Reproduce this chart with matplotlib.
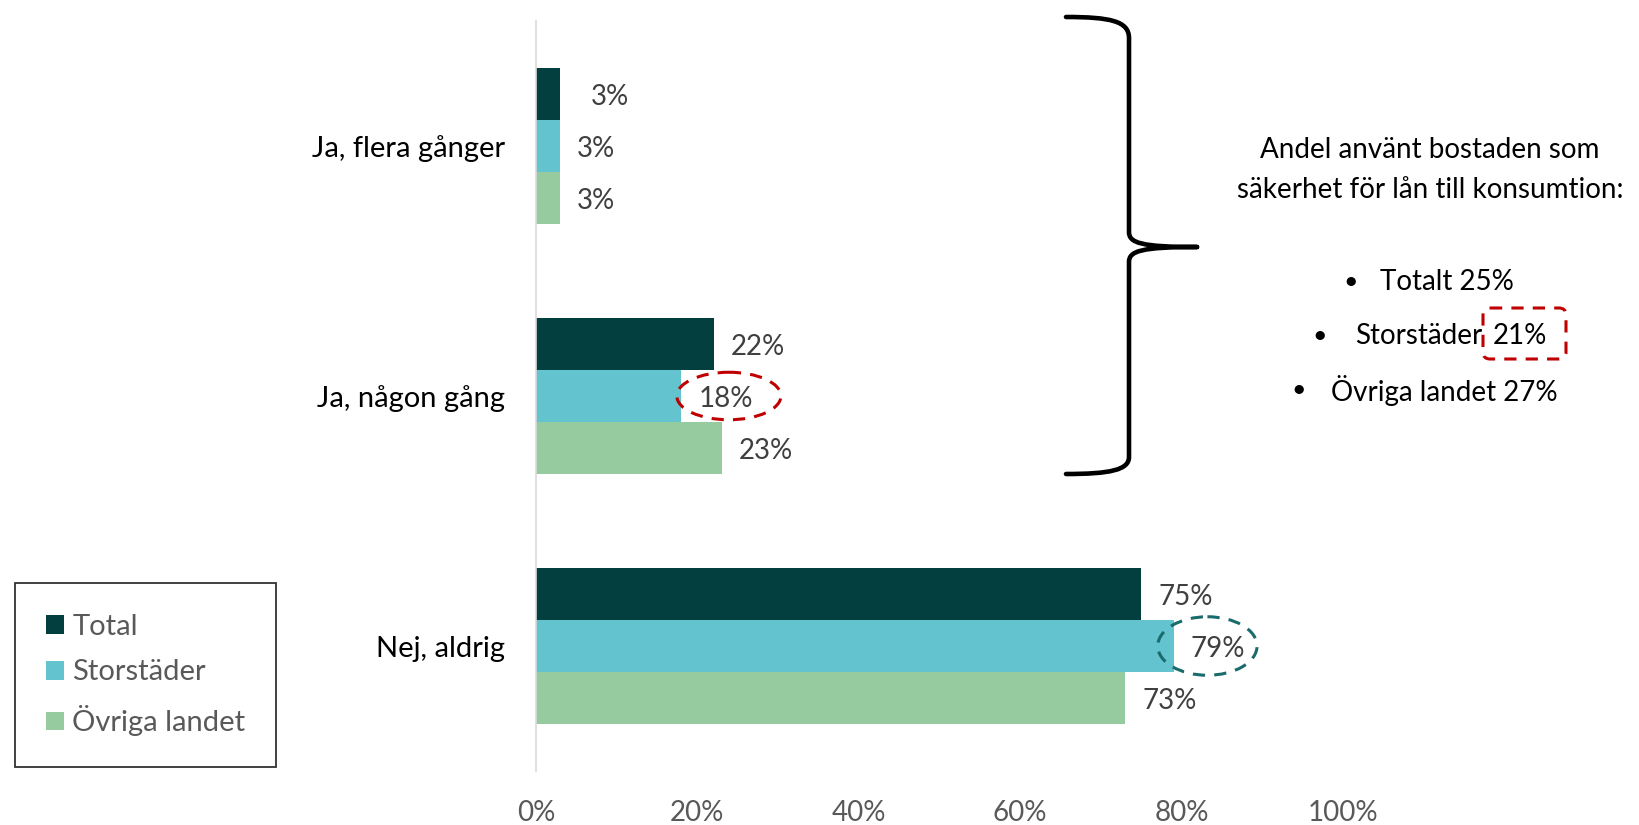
import matplotlib.pyplot as plt
from matplotlib.patches import Ellipse, FancyBboxPatch, PathPatch
from matplotlib.path import Path
import numpy as np

categories = ["Ja, flera gånger", "Ja, någon gång", "Nej, aldrig"]
series_names = ["Total", "Storstäder", "Övriga landet"]
total = [3, 22, 75]
storstader = [3, 18, 79]
ovriga = [3, 23, 73]
colors = ["#033F3F", "#63C3CF", "#95CB9E"]
xticks = [0, 20, 40, 60, 80, 100]

plt.rcParams['font.family'] = ['Lato', 'DejaVu Sans']
FS = 20

fig = plt.figure(figsize=(16.39, 8.25), dpi=100)
ax = fig.add_axes([536/1639, 54/825, 807/1639, 750/825])

bh = 0.207
y = np.arange(len(categories))
for i, (name, vals) in enumerate(zip(series_names, [total, storstader, ovriga])):
    pos = y + (i - 1) * bh
    ax.barh(pos, vals, height=bh, color=colors[i], label=name)
    for j, (p, v) in enumerate(zip(pos, vals)):
        off = 31 if (i == 0 and j == 0) else 17
        ax.annotate(f"{v}%", (v, p), xytext=(off * 0.72, -2), textcoords='offset points',
                    va='center', ha='left', fontsize=FS, color='#404040')

ax.set_xlim(0, 100)
ax.set_ylim(2.5, -0.5)
ax.set_yticks(y)
ax.set_yticklabels(categories, fontsize=21, color='black')
ax.set_xticks(xticks)
ax.set_xticklabels([f"{t}%" for t in xticks], fontsize=FS, color='#595959')
ax.tick_params(length=0)
ax.tick_params(axis='y', pad=22)
ax.tick_params(axis='x', pad=21)
for s in ['top', 'right', 'bottom']:
    ax.spines[s].set_visible(False)
ax.spines['left'].set_color('#D9D9D9')
ax.spines['left'].set_linewidth(1.2)

# highlight ellipses
ax.add_patch(Ellipse((23.9, 1.0), 12.9, 0.19, fill=False, ec='#C00000', lw=2.2,
                     ls=(0, (4, 3)), clip_on=False))
ax.add_patch(Ellipse((83.2, 2.0), 12.3, 0.234, fill=False, ec='#1A6B6B', lw=2.2,
                     ls=(0, (4, 3)), clip_on=False))

leg = fig.legend(loc='upper left', bbox_to_anchor=(15/1639, 1 - 583/825), fontsize=21,
                 frameon=True, fancybox=False, handlelength=0.62, handleheight=0.62,
                 handletextpad=0.3, labelspacing=0.68, borderpad=1.05, borderaxespad=0,
                 labelcolor='#595959')
leg.get_frame().set_edgecolor('black')
leg.get_frame().set_linewidth(1.3)

# overlay in pixel coordinates for the brace and side text
ov = fig.add_axes([0, 0, 1, 1])
ov.set_xlim(0, 1639)
ov.set_ylim(825, 0)
ov.axis('off')

verts = [(1066, 17), (1110, 17), (1129, 21), (1129, 38),
         (1129, 232), (1129, 243), (1141, 247), (1197, 247),
         (1197, 247), (1141, 247), (1129, 251), (1129, 262),
         (1129, 457), (1129, 470), (1110, 474), (1066, 474)]
codes = [Path.MOVETO, Path.CURVE4, Path.CURVE4, Path.CURVE4,
         Path.LINETO, Path.CURVE4, Path.CURVE4, Path.CURVE4,
         Path.MOVETO, Path.CURVE4, Path.CURVE4, Path.CURVE4,
         Path.LINETO, Path.CURVE4, Path.CURVE4, Path.CURVE4]
ov.add_patch(PathPatch(Path(verts, codes), fill=False, lw=3.3, ec='black',
                       capstyle='round', joinstyle='round'))

ov.text(1430, 150, "Andel använt bostaden som", ha='center', va='center', fontsize=FS)
ov.text(1430, 190, "säkerhet för lån till konsumtion:", ha='center', va='center', fontsize=FS)

ov.text(1351, 282, "•", ha='center', va='center', fontsize=FS - 2)
ov.text(1380, 282, "Totalt 25%", ha='left', va='center', fontsize=FS)
ov.text(1320, 336, "•", ha='center', va='center', fontsize=FS - 2)
ov.text(1482, 336, "Storstäder", ha='right', va='center', fontsize=FS)
ov.text(1493, 336, "21%", ha='left', va='center', fontsize=FS)
ov.text(1299, 390, "•", ha='center', va='center', fontsize=FS - 2)
ov.text(1331, 390, "Övriga landet 27%", ha='left', va='center', fontsize=FS)

ov.add_patch(FancyBboxPatch((1483, 308), 83, 51, boxstyle='round,pad=0,rounding_size=7',
                            fill=False, ec='#C00000', lw=2.2, ls=(0, (4, 3))))

fig.savefig("out.png", dpi=100)
